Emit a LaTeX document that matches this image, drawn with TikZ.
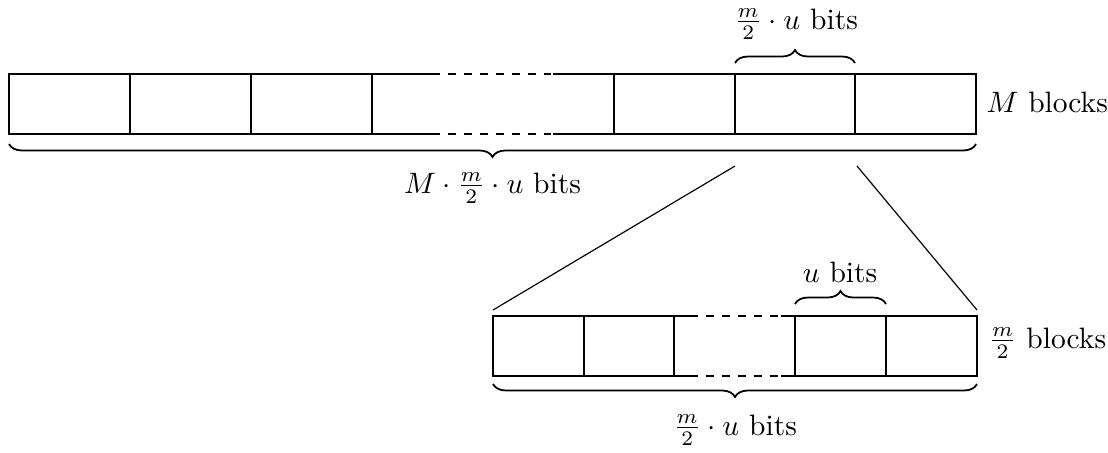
\documentclass[tikz,border=0pt]{standalone}
\usetikzlibrary{decorations.pathreplacing}
\begin{document}
\begin{tikzpicture}[x=0.339pt,y=-0.339pt,
  outer/.style={line width=0.8pt},
  inner/.style={line width=0.4pt},
  dsh/.style={line width=0.8pt,dash pattern=on 2.7pt off 2.7pt},
  brc/.style={decorate,decoration={brace,amplitude=4.4pt},line width=0.6pt},
  mbrc/.style={decorate,decoration={brace,amplitude=4.4pt,mirror},line width=0.6pt},
  lbl/.style={inner sep=0pt},
  zoomline/.style={line width=0.4pt}]
\useasboundingbox (0,0) rectangle (1108,452);
% ---- top bar ----
\coordinate (tTL) at (9,74);   \coordinate (tTR) at (976,74);
\coordinate (tBL) at (9,134);  \coordinate (tBR) at (976,134);
\coordinate (tDa) at (432,74); \coordinate (tDb) at (553,74);
\coordinate (tDc) at (432,134);\coordinate (tDd) at (553,134);
\draw[outer] (tDa) -- (tTL) -- (tBL) -- (tDc);
\draw[outer] (tDb) -- (tTR) -- (tBR) -- (tDd);
\draw[dsh] (tDa) -- (tDb);
\draw[dsh] (tDc) -- (tDd);
\foreach \x [count=\i] in {130,251,372,614,735,855}{
  \coordinate (tv\i a) at (\x,74); \coordinate (tv\i b) at (\x,134);
  \draw[inner] (tv\i a) -- (tv\i b);
}
% brace over one block
\coordinate (tb1) at (735,63); \coordinate (tb2) at (855,63);
\draw[brc] (tb1) -- (tb2);
\node[lbl,anchor=base] (ltop) at (796,29) {$\frac{m}{2}\cdot u$ bits};
% brace under bar
\coordinate (tb3) at (9,144); \coordinate (tb4) at (976,144);
\draw[mbrc] (tb3) -- (tb4);
\node[lbl,anchor=base] (lbig) at (492.5,193) {$M\cdot\frac{m}{2}\cdot u$ bits};
\node[lbl,anchor=base west] (lM) at (986,112) {$M$ blocks};
% ---- zoom lines ----
\coordinate (z1) at (735,166); \coordinate (z2) at (857,166);
\coordinate (z3) at (493,310); \coordinate (z4) at (977,310);
\draw[zoomline] (z1) -- (z3);
\draw[zoomline] (z2) -- (z4);
% ---- bottom bar ----
\coordinate (bTL) at (493,316); \coordinate (bTR) at (977,316);
\coordinate (bBL) at (493,376); \coordinate (bBR) at (977,376);
\coordinate (bDa) at (690,316); \coordinate (bDb) at (781,316);
\coordinate (bDc) at (690,376); \coordinate (bDd) at (781,376);
\draw[outer] (bDa) -- (bTL) -- (bBL) -- (bDc);
\draw[outer] (bDb) -- (bTR) -- (bBR) -- (bDd);
\draw[dsh] (bDa) -- (bDb);
\draw[dsh] (bDc) -- (bDd);
\foreach \x [count=\i] in {584,674,795,886}{
  \coordinate (bv\i a) at (\x,316); \coordinate (bv\i b) at (\x,376);
  \draw[inner] (bv\i a) -- (bv\i b);
}
\coordinate (bb1) at (795,304); \coordinate (bb2) at (886,304);
\draw[brc] (bb1) -- (bb2);
\node[lbl,anchor=base] (lu) at (840,282) {$u$ bits};
\coordinate (bb3) at (493,384); \coordinate (bb4) at (977,384);
\draw[mbrc] (bb3) -- (bb4);
\node[lbl,anchor=base] (lbot) at (735,435) {$\frac{m}{2}\cdot u$ bits};
\node[lbl,anchor=base west] (lm) at (988,348) {$\frac{m}{2}$ blocks};
\end{tikzpicture}
\end{document}
